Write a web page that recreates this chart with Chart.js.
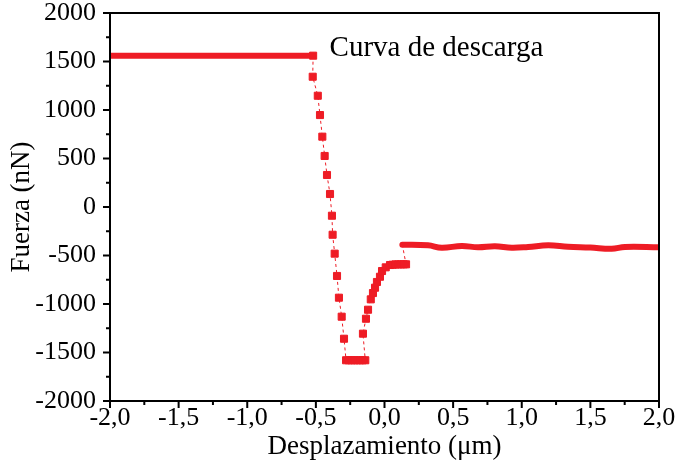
<!DOCTYPE html>
<html>
<head>
<meta charset="utf-8">
<script src="https://cdn.jsdelivr.net/npm/chart.js@4"></script>
<style>
  html, body { margin: 0; padding: 0; background: #fff; }
</style>
</head>
<body>
<canvas id="fuerzaChart" width="677" height="464"></canvas>
<script>
// Curva de descarga
const plateauX = [-2.0, -0.52];
const plateauY = [1560, 1560];

const descargaX = [-0.52, -0.523, -0.486, -0.470, -0.453, -0.436, -0.419, -0.397, -0.383, -0.378, -0.363, -0.346, -0.332, -0.312, -0.295,
    -0.28, -0.26, -0.24, -0.22, -0.20, -0.18, -0.16, -0.14,
    -0.157, -0.135, -0.120, -0.100, -0.084, -0.069, -0.055, -0.033, -0.018, 0.009, 0.040,
    0.06, 0.08, 0.10, 0.12, 0.14, 0.157, 0.13];
const descargaY = [1560, 1343, 1147, 948, 725, 526, 330, 134, -90, -286, -481, -711, -935, -1131, -1358,
    -1580, -1580, -1580, -1580, -1580, -1580, -1580, -1580,
    -1306, -1152, -1059, -952, -887, -832, -773, -719, -660, -622, -598,
    -595, -592, -592, -591, -591, -591, -389];

const finalX = [0.13, 0.317, 0.417, 0.563, 0.681, 0.805, 0.927, 1.046, 1.193, 1.337, 1.50, 1.655, 1.752, 2.0];
const finalY = [-389, -395, -420, -402, -415, -405, -420, -412, -395, -410, -418, -430, -412, -415];

const xTickStep = 0.25, yTickStep = 250;
const xLabelEvery = 0.5, yLabelEvery = 500;

const RED = '#ee1c25';
const SERIF = "'Liberation Serif', 'DejaVu Serif', serif";

const toPoints = (xs, ys) => xs.map((x, i) => ({ x: x, y: ys[i] }));

// caja + marcas mayores/menores
const boxPlugin = {
    id: 'boxTicks',
    afterDraw(chart) {
        const { ctx, chartArea: a, scales } = chart;
        ctx.save();
        ctx.strokeStyle = '#000';
        ctx.lineWidth = 2;
        ctx.strokeRect(a.left, a.top, a.right - a.left, a.bottom - a.top);
        ctx.beginPath();
        scales.x.ticks.forEach(t => {
            const px = scales.x.getPixelForValue(t.value);
            const len = t.label !== '' ? 7 : 4;
            ctx.moveTo(px, a.bottom);
            ctx.lineTo(px, a.bottom + len);
        });
        scales.y.ticks.forEach(t => {
            const py = scales.y.getPixelForValue(t.value);
            const len = t.label !== '' ? 7 : 4;
            ctx.moveTo(a.left, py);
            ctx.lineTo(a.left - len, py);
        });
        ctx.stroke();

        // etiqueta
        ctx.fillStyle = '#000';
        ctx.font = '29px ' + SERIF;
        ctx.textBaseline = 'alphabetic';
        ctx.fillText('Curva de descarga', scales.x.getPixelForValue(-0.40), scales.y.getPixelForValue(1560));
        ctx.restore();
    }
};

new Chart(document.getElementById('fuerzaChart'), {
    type: 'scatter',
    data: {
        datasets: [
            {
                data: toPoints(plateauX, plateauY),
                showLine: true,
                borderColor: RED,
                borderWidth: 6,
                borderCapStyle: 'round',
                pointRadius: 0
            },
            {
                data: toPoints(finalX, finalY),
                showLine: true,
                borderColor: RED,
                borderWidth: 6,
                borderCapStyle: 'round',
                tension: 0.4,
                pointRadius: 0
            },
            {
                data: toPoints(descargaX, descargaY),
                showLine: true,
                borderColor: RED,
                borderWidth: 1,
                borderDash: [3, 3],
                pointStyle: 'rect',
                pointRadius: ctx => (ctx.dataIndex === descargaX.length - 1 ? 0 : 5),
                pointBorderWidth: 1,
                pointBackgroundColor: RED,
                pointBorderColor: RED
            }
        ]
    },
    options: {
        responsive: false,
        devicePixelRatio: 1,
        animation: false,
        layout: { padding: { top: 13, right: 18, left: 0, bottom: 0 } },
        plugins: { legend: { display: false }, tooltip: { enabled: false } },
        scales: {
            x: {
                type: 'linear',
                min: -2, max: 2,
                grid: { display: false, drawTicks: false },
                border: { display: false },
                afterFit(scale) {
                    scale.height = 63;
                    scale.paddingLeft = 0;
                    scale.paddingRight = 0;
                },
                ticks: {
                    stepSize: xTickStep,
                    autoSkip: false,
                    maxRotation: 0,
                    padding: 4,
                    color: '#000',
                    font: { family: SERIF, size: 26, lineHeight: 1 },
                    callback: v => (Math.abs(v / xLabelEvery - Math.round(v / xLabelEvery)) < 1e-6 ? v.toFixed(1).replace('.', ',') : '')
                },
                title: {
                    display: true,
                    text: 'Desplazamiento (μm)',
                    color: '#000',
                    font: { family: SERIF, size: 27, lineHeight: 1 },
                    padding: { top: 0, bottom: 4 }
                }
            },
            y: {
                type: 'linear',
                min: -2000, max: 2000,
                grid: { display: false, drawTicks: false },
                border: { display: false },
                afterFit(scale) {
                    scale.width = 110;
                    scale.paddingTop = 0;
                    scale.paddingBottom = 0;
                },
                ticks: {
                    stepSize: yTickStep,
                    autoSkip: false,
                    padding: 14,
                    color: '#000',
                    font: { family: SERIF, size: 26, lineHeight: 1 },
                    callback: v => (v % yLabelEvery === 0 ? String(v) : '')
                },
                title: {
                    display: true,
                    text: 'Fuerza (nN)',
                    color: '#000',
                    font: { family: SERIF, size: 27, lineHeight: 1 },
                    padding: { top: 8, bottom: 0 }
                }
            }
        }
    },
    plugins: [boxPlugin]
});
</script>
</body>
</html>
